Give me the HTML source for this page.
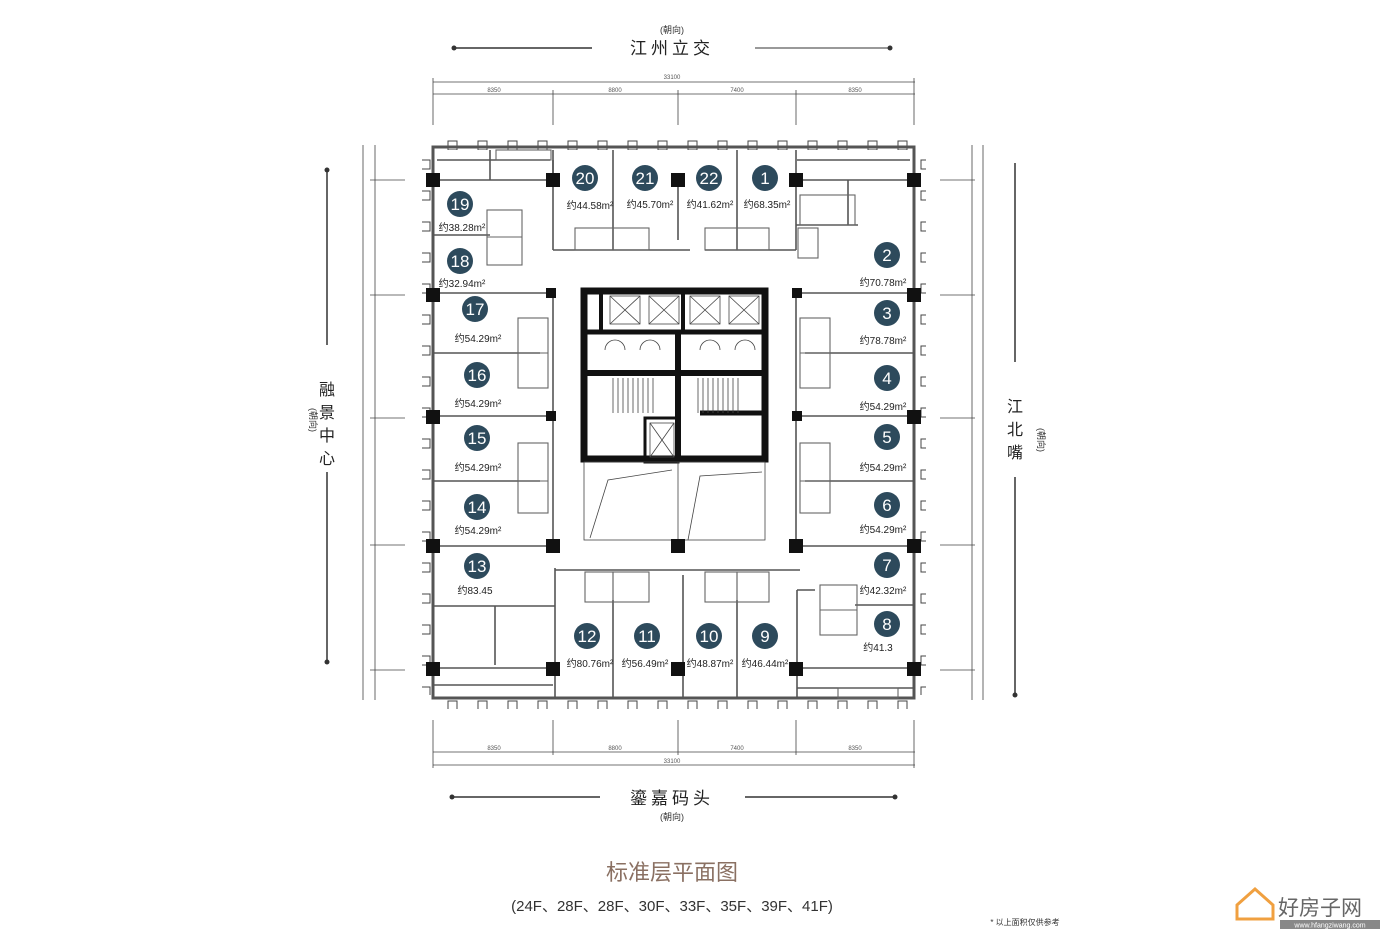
<!DOCTYPE html>
<html><head><meta charset="utf-8"><style>
html,body{margin:0;padding:0;background:#fff;}
svg{display:block;}
text{font-family:"Liberation Sans","Noto Sans CJK SC",sans-serif;}
.c{fill:#2d4a5c;}
.n{fill:#fff;font-size:17px;text-anchor:middle;}
.a{fill:#222;font-size:10px;text-anchor:middle;}
.d{fill:#555;font-size:6px;text-anchor:middle;}
</style></head><body>
<svg width="1400" height="933" viewBox="0 0 1400 933" xmlns="http://www.w3.org/2000/svg">
<defs>
<pattern id="mh" x="440" y="0" width="30" height="20" patternUnits="userSpaceOnUse"><rect x="8" y="1" width="9" height="9" fill="#fff" stroke="#444" stroke-width="1"/></pattern>
<pattern id="mv" x="0" y="150" width="20" height="31" patternUnits="userSpaceOnUse"><rect x="1" y="10" width="9" height="9" fill="#fff" stroke="#444" stroke-width="1"/></pattern>
</defs>
<rect width="1400" height="933" fill="#fff"/>
<text x="672" y="33" font-size="9" text-anchor="middle" fill="#333">(朝向)</text>
<text x="672" y="54" font-size="17" text-anchor="middle" fill="#222" letter-spacing="4">江州立交</text>
<line x1="454" y1="48" x2="592" y2="48" stroke="#333" stroke-width="1.5"/><circle cx="454" cy="48" r="2.5" fill="#333"/>
<line x1="755" y1="48" x2="890" y2="48" stroke="#333" stroke-width="1"/><circle cx="890" cy="48" r="2.5" fill="#333"/>
<g stroke="#444" stroke-width="0.8">
<line x1="433" y1="82" x2="915" y2="82"/><line x1="433" y1="94" x2="915" y2="94"/>
<line x1="433" y1="78" x2="433" y2="125"/><line x1="553" y1="90" x2="553" y2="125"/><line x1="678" y1="90" x2="678" y2="125"/><line x1="796" y1="90" x2="796" y2="125"/><line x1="914" y1="78" x2="914" y2="125"/>
</g>
<text class="d" x="672" y="79">33100</text><text class="d" x="494" y="92">8350</text><text class="d" x="615" y="92">8800</text><text class="d" x="737" y="92">7400</text><text class="d" x="855" y="92">8350</text>
<g stroke="#444" stroke-width="0.8">
<line x1="433" y1="752" x2="915" y2="752"/><line x1="433" y1="765" x2="915" y2="765"/>
<line x1="433" y1="720" x2="433" y2="768"/><line x1="553" y1="720" x2="553" y2="755"/><line x1="678" y1="720" x2="678" y2="755"/><line x1="796" y1="720" x2="796" y2="755"/><line x1="914" y1="720" x2="914" y2="768"/>
</g>
<text class="d" x="494" y="750">8350</text><text class="d" x="615" y="750">8800</text><text class="d" x="737" y="750">7400</text><text class="d" x="855" y="750">8350</text><text class="d" x="672" y="763">33100</text>
<line x1="452" y1="797" x2="600" y2="797" stroke="#333" stroke-width="1.5"/><circle cx="452" cy="797" r="2.5" fill="#333"/>
<line x1="745" y1="797" x2="895" y2="797" stroke="#333" stroke-width="1.5"/><circle cx="895" cy="797" r="2.5" fill="#333"/>
<text x="672" y="804" font-size="17" text-anchor="middle" fill="#222" letter-spacing="4">鎏嘉码头</text>
<text x="672" y="820" font-size="9" text-anchor="middle" fill="#333">(朝向)</text>
<line x1="327" y1="170" x2="327" y2="345" stroke="#333" stroke-width="1.5"/><line x1="327" y1="472" x2="327" y2="662" stroke="#333" stroke-width="1.5"/>
<circle cx="327" cy="170" r="2.5" fill="#333"/><circle cx="327" cy="662" r="2.5" fill="#333"/>
<text x="327" y="395" font-size="16" text-anchor="middle" fill="#222">融</text><text x="327" y="418" font-size="16" text-anchor="middle" fill="#222">景</text><text x="327" y="441" font-size="16" text-anchor="middle" fill="#222">中</text><text x="327" y="464" font-size="16" text-anchor="middle" fill="#222">心</text>
<text x="310" y="420" font-size="9" text-anchor="middle" fill="#333" transform="rotate(90 310 420)">(朝向)</text>
<g stroke="#444" stroke-width="0.8">
<line x1="363" y1="145" x2="363" y2="700"/><line x1="375" y1="145" x2="375" y2="700"/>
<line x1="370" y1="180" x2="405" y2="180"/><line x1="370" y1="295" x2="405" y2="295"/><line x1="370" y1="418" x2="405" y2="418"/><line x1="370" y1="545" x2="405" y2="545"/><line x1="370" y1="670" x2="405" y2="670"/>
</g>
<line x1="1015" y1="163" x2="1015" y2="362" stroke="#333" stroke-width="1.5"/><line x1="1015" y1="477" x2="1015" y2="695" stroke="#333" stroke-width="1.5"/>
<circle cx="1015" cy="695" r="2.5" fill="#333"/>
<text x="1015" y="412" font-size="16" text-anchor="middle" fill="#222">江</text><text x="1015" y="435" font-size="16" text-anchor="middle" fill="#222">北</text><text x="1015" y="458" font-size="16" text-anchor="middle" fill="#222">嘴</text>
<text x="1038" y="440" font-size="9" text-anchor="middle" fill="#333" transform="rotate(90 1038 440)">(朝向)</text>
<g stroke="#444" stroke-width="0.8">
<line x1="972" y1="145" x2="972" y2="700"/><line x1="983" y1="145" x2="983" y2="700"/>
<line x1="940" y1="180" x2="975" y2="180"/><line x1="940" y1="295" x2="975" y2="295"/><line x1="940" y1="418" x2="975" y2="418"/><line x1="940" y1="545" x2="975" y2="545"/><line x1="940" y1="670" x2="975" y2="670"/>
</g>
<rect x="436" y="138" width="476" height="12" fill="url(#mh)"/>
<rect x="436" y="697" width="476" height="12" fill="url(#mh)"/>
<rect x="422" y="150" width="12" height="545" fill="url(#mv)"/>
<rect x="914" y="150" width="12" height="545" fill="url(#mv)"/>
<rect x="433" y="147" width="481" height="551" fill="none" stroke="#555" stroke-width="3"/>
<g stroke="#555" stroke-width="1.6" fill="none">
<line x1="433" y1="180" x2="553" y2="180"/><line x1="796" y1="180" x2="914" y2="180"/>
<line x1="433" y1="235" x2="490" y2="235"/>
<line x1="433" y1="293" x2="553" y2="293"/><line x1="796" y1="293" x2="914" y2="293"/>
<line x1="433" y1="353" x2="540" y2="353"/><line x1="805" y1="353" x2="914" y2="353"/>
<line x1="433" y1="416" x2="553" y2="416"/><line x1="796" y1="416" x2="914" y2="416"/>
<line x1="433" y1="481" x2="540" y2="481"/><line x1="805" y1="481" x2="914" y2="481"/>
<line x1="433" y1="546" x2="553" y2="546"/><line x1="796" y1="546" x2="914" y2="546"/>
<line x1="433" y1="606" x2="555" y2="606"/><line x1="855" y1="605" x2="914" y2="605"/>
<line x1="433" y1="668" x2="553" y2="668"/><line x1="796" y1="668" x2="914" y2="668"/>
<line x1="553" y1="150" x2="553" y2="250"/><line x1="553" y1="250" x2="690" y2="250"/><line x1="705" y1="250" x2="796" y2="250"/>
<line x1="613" y1="150" x2="613" y2="250"/><line x1="737" y1="150" x2="737" y2="250"/><line x1="678" y1="180" x2="678" y2="240"/>
<line x1="796" y1="150" x2="796" y2="250"/><line x1="848" y1="180" x2="848" y2="225"/><line x1="796" y1="225" x2="858" y2="225"/>
<line x1="553" y1="293" x2="553" y2="546"/><line x1="796" y1="293" x2="796" y2="546"/>
<line x1="555" y1="568" x2="555" y2="698"/><line x1="555" y1="570" x2="800" y2="570"/>
<line x1="613" y1="600" x2="613" y2="698"/><line x1="737" y1="600" x2="737" y2="698"/><line x1="683" y1="575" x2="683" y2="698"/>
<line x1="797" y1="590" x2="797" y2="698"/><line x1="797" y1="590" x2="815" y2="590"/>
<line x1="495" y1="606" x2="495" y2="665"/>
<line x1="433" y1="685" x2="553" y2="685"/><line x1="797" y1="688" x2="914" y2="688"/>
<line x1="437" y1="160" x2="550" y2="160"/><line x1="797" y1="160" x2="910" y2="160"/>
<line x1="490" y1="150" x2="490" y2="180"/><line x1="553" y1="160" x2="553" y2="180"/>
</g>
<g stroke="#666" stroke-width="1.1" fill="none">
<rect x="487" y="210" width="35" height="55"/><line x1="487" y1="237" x2="522" y2="237"/>
<rect x="820" y="585" width="37" height="50"/><line x1="820" y1="610" x2="857" y2="610"/>
<rect x="518" y="318" width="30" height="70"/><line x1="518" y1="353" x2="548" y2="353"/>
<rect x="518" y="443" width="30" height="70"/><line x1="518" y1="481" x2="548" y2="481"/>
<rect x="800" y="318" width="30" height="70"/><line x1="800" y1="353" x2="830" y2="353"/>
<rect x="800" y="443" width="30" height="70"/><line x1="800" y1="481" x2="830" y2="481"/>
<rect x="575" y="228" width="38" height="22"/><rect x="613" y="228" width="36" height="22"/><rect x="705" y="228" width="32" height="22"/><rect x="737" y="228" width="32" height="22"/>
<rect x="585" y="572" width="28" height="30"/><rect x="613" y="572" width="36" height="30"/><rect x="705" y="572" width="32" height="30"/><rect x="737" y="572" width="32" height="30"/>
<rect x="800" y="195" width="55" height="30"/><rect x="798" y="228" width="20" height="30"/>
<rect x="440" y="230" width="0" height="0"/>
<rect x="496" y="150" width="55" height="10"/><rect x="838" y="688" width="60" height="10"/>
</g>
<g fill="none" stroke="#111">
<rect x="584" y="291" width="181" height="168" stroke-width="7"/>
<line x1="584" y1="332" x2="765" y2="332" stroke-width="5"/>
<line x1="584" y1="373" x2="765" y2="373" stroke-width="6"/>
<line x1="678" y1="332" x2="678" y2="462" stroke-width="6"/>
<line x1="683" y1="291" x2="683" y2="332" stroke-width="4"/>
<line x1="601" y1="291" x2="601" y2="332" stroke-width="4"/>
<line x1="700" y1="413" x2="765" y2="413" stroke-width="5"/>
<rect x="645" y="418" width="33" height="44" stroke-width="3"/>
</g>
<g fill="none" stroke="#444" stroke-width="0.8">
<rect x="610" y="296" width="30" height="28"/><line x1="610" y1="296" x2="640" y2="324"/><line x1="640" y1="296" x2="610" y2="324"/>
<rect x="649" y="296" width="30" height="28"/><line x1="649" y1="296" x2="679" y2="324"/><line x1="679" y1="296" x2="649" y2="324"/>
<rect x="690" y="296" width="30" height="28"/><line x1="690" y1="296" x2="720" y2="324"/><line x1="720" y1="296" x2="690" y2="324"/>
<rect x="729" y="296" width="30" height="28"/><line x1="729" y1="296" x2="759" y2="324"/><line x1="759" y1="296" x2="729" y2="324"/>
<rect x="650" y="423" width="24" height="34"/><line x1="650" y1="423" x2="674" y2="457"/><line x1="674" y1="423" x2="650" y2="457"/>
<path d="M613 378v35M618 378v35M623 378v35M628 378v35M633 378v35M638 378v35M643 378v35M648 378v35M653 378v35"/>
<path d="M698 378v35M703 378v35M708 378v35M713 378v35M718 378v35M723 378v35M728 378v35M733 378v35M738 378v35"/>
<path d="M605 350a10 10 0 0 1 20 0M640 350a10 10 0 0 1 20 0M700 350a10 10 0 0 1 20 0M735 350a10 10 0 0 1 20 0"/>
<rect x="584" y="462" width="181" height="78"/><line x1="678" y1="462" x2="678" y2="540"/>
<path d="M590 538L608 480L672 470M688 540L700 476L762 472"/>
</g>
<g fill="#111">
<rect x="426" y="173" width="14" height="14"/><rect x="546" y="173" width="14" height="14"/><rect x="671" y="173" width="14" height="14"/><rect x="789" y="173" width="14" height="14"/><rect x="907" y="173" width="14" height="14"/>
<rect x="426" y="288" width="14" height="14"/><rect x="546" y="288" width="10" height="10"/><rect x="792" y="288" width="10" height="10"/><rect x="907" y="288" width="14" height="14"/>
<rect x="426" y="410" width="14" height="14"/><rect x="546" y="411" width="10" height="10"/><rect x="792" y="411" width="10" height="10"/><rect x="907" y="410" width="14" height="14"/>
<rect x="426" y="539" width="14" height="14"/><rect x="546" y="539" width="14" height="14"/><rect x="671" y="539" width="14" height="14"/><rect x="789" y="539" width="14" height="14"/><rect x="907" y="539" width="14" height="14"/>
<rect x="426" y="662" width="14" height="14"/><rect x="546" y="662" width="14" height="14"/><rect x="671" y="662" width="14" height="14"/><rect x="789" y="662" width="14" height="14"/><rect x="907" y="662" width="14" height="14"/>
</g>
<g>
<circle class="c" cx="585" cy="178" r="13"/><text class="n" x="585" y="184">20</text>
<circle class="c" cx="645" cy="178" r="13"/><text class="n" x="645" y="184">21</text>
<circle class="c" cx="709" cy="178" r="13"/><text class="n" x="709" y="184">22</text>
<circle class="c" cx="765" cy="178" r="13"/><text class="n" x="765" y="184">1</text>
<circle class="c" cx="460" cy="204" r="13"/><text class="n" x="460" y="210">19</text>
<circle class="c" cx="460" cy="261" r="13"/><text class="n" x="460" y="267">18</text>
<circle class="c" cx="475" cy="309" r="13"/><text class="n" x="475" y="315">17</text>
<circle class="c" cx="887" cy="255" r="13"/><text class="n" x="887" y="261">2</text>
<circle class="c" cx="887" cy="313" r="13"/><text class="n" x="887" y="319">3</text>
<circle class="c" cx="477" cy="375" r="13"/><text class="n" x="477" y="381">16</text>
<circle class="c" cx="887" cy="378" r="13"/><text class="n" x="887" y="384">4</text>
<circle class="c" cx="477" cy="438" r="13"/><text class="n" x="477" y="444">15</text>
<circle class="c" cx="887" cy="437" r="13"/><text class="n" x="887" y="443">5</text>
<circle class="c" cx="477" cy="507" r="13"/><text class="n" x="477" y="513">14</text>
<circle class="c" cx="887" cy="505" r="13"/><text class="n" x="887" y="511">6</text>
<circle class="c" cx="477" cy="566" r="13"/><text class="n" x="477" y="572">13</text>
<circle class="c" cx="887" cy="565" r="13"/><text class="n" x="887" y="571">7</text>
<circle class="c" cx="887" cy="624" r="13"/><text class="n" x="887" y="630">8</text>
<circle class="c" cx="587" cy="636" r="13"/><text class="n" x="587" y="642">12</text>
<circle class="c" cx="647" cy="636" r="13"/><text class="n" x="647" y="642">11</text>
<circle class="c" cx="709" cy="636" r="13"/><text class="n" x="709" y="642">10</text>
<circle class="c" cx="765" cy="636" r="13"/><text class="n" x="765" y="642">9</text>
</g>
<g>
<text class="a" x="590" y="209">约44.58m²</text><text class="a" x="650" y="208">约45.70m²</text><text class="a" x="710" y="208">约41.62m²</text><text class="a" x="767" y="208">约68.35m²</text>
<text class="a" x="462" y="231">约38.28m²</text><text class="a" x="462" y="287">约32.94m²</text><text class="a" x="478" y="342">约54.29m²</text>
<text class="a" x="883" y="286">约70.78m²</text><text class="a" x="883" y="344">约78.78m²</text><text class="a" x="478" y="407">约54.29m²</text>
<text class="a" x="883" y="410">约54.29m²</text><text class="a" x="478" y="471">约54.29m²</text><text class="a" x="883" y="471">约54.29m²</text>
<text class="a" x="478" y="534">约54.29m²</text><text class="a" x="883" y="533">约54.29m²</text><text class="a" x="475" y="594">约83.45</text>
<text class="a" x="883" y="594">约42.32m²</text><text class="a" x="878" y="651">约41.3</text>
<text class="a" x="590" y="667">约80.76m²</text><text class="a" x="645" y="667">约56.49m²</text><text class="a" x="710" y="667">约48.87m²</text><text class="a" x="765" y="667">约46.44m²</text>
</g>
<text x="672" y="880" font-size="22" text-anchor="middle" fill="#8a7062">标准层平面图</text>
<text x="672" y="911" font-size="15" text-anchor="middle" fill="#333">(24F、28F、28F、30F、33F、35F、39F、41F)</text>
<text x="1025" y="925" font-size="8" text-anchor="middle" fill="#333">* 以上面积仅供参考</text>
<path d="M1237 905l18-16 18 16v14h-36z" fill="none" stroke="#f0a040" stroke-width="3"/>
<text x="1320" y="915" font-size="21" text-anchor="middle" fill="#666">好房子网</text>
<rect x="1280" y="920" width="100" height="9" fill="#888"/>
<text x="1330" y="927.5" font-size="7" text-anchor="middle" fill="#fff">www.hfangziwang.com</text>
</svg>
</body></html>
